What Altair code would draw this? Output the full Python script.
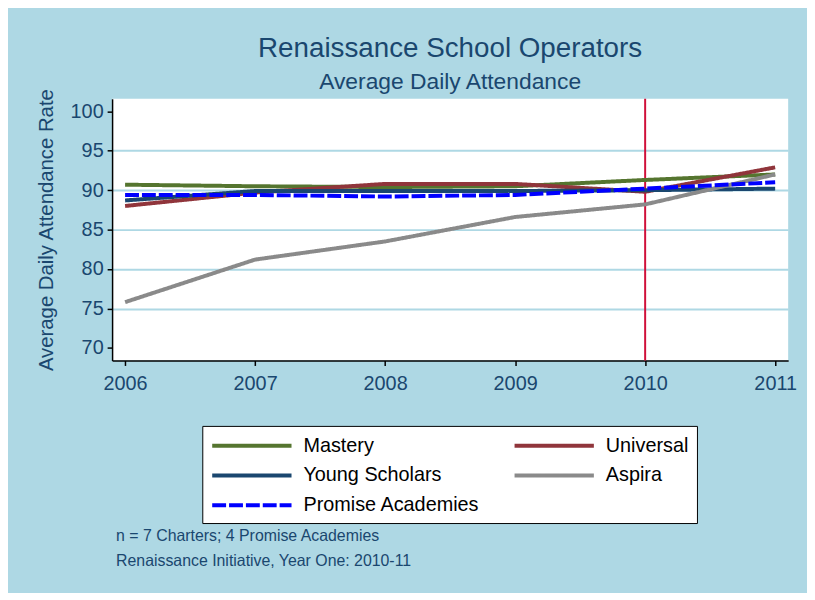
import altair as alt
import pandas as pd

# ---- data ----
years = [2006, 2007, 2008, 2009, 2010, 2011]
operators = ["Mastery", "Universal", "Young Scholars", "Aspira", "Promise Academies"]
mastery = [90.7, 90.5, 90.4, 90.5, 91.3, 92.0]
universal = [88.0, 89.7, 90.8, 90.8, 89.8, 92.9]
young_scholars = [88.7, 89.9, 89.9, 89.9, 90.0, 90.2]
aspira = [75.8, 81.2, 83.5, 86.6, 88.2, 92.0]
promise = [89.4, 89.4, 89.2, 89.4, 90.2, 91.0]
y_ticks = [70, 75, 80, 85, 90, 95, 100]
cutoff_year = [2010]
notes = ["n = 7 Charters; 4 Promise Academies",
         "Renaissance Initiative, Year One: 2010-11"]
title_text = "Renaissance School Operators"
subtitle_text = "Average Daily Attendance"
y_title = "Average Daily Attendance Rate"

series = dict(zip(operators, [mastery, universal, young_scholars, aspira, promise]))
rows = []
for op in operators:
    for yr, v in zip(years, series[op]):
        rows.append({"Year": yr, "Operator": op, "Rate": v})
df = pd.DataFrame(rows)

FONT = "Liberation Sans"
NAVY = "#1a476f"
BG = "#aed8e4"
color_range = ["#55752f", "#90353b", "#1a476f", "#8a8a8a", "#0000ff"]
dash_range = [[1, 0], [1, 0], [1, 0], [1, 0], [14, 3]]

x = alt.X("Year:Q",
          scale=alt.Scale(domain=[2005.9, 2011.1], nice=False, zero=False),
          axis=alt.Axis(values=years, format="d", title=None, grid=False,
                        labelFontSize=20, labelColor=NAVY, labelFont=FONT,
                        tickColor="black", domainColor="black", tickSize=5,
                        labelPadding=8, domainWidth=1.5, tickWidth=1.5))
y = alt.Y("Rate:Q",
          scale=alt.Scale(domain=[68.4, 101.6], nice=False, zero=False),
          axis=alt.Axis(values=y_ticks, title=y_title,
                        titleFontSize=20.5, titleFont=FONT, titleColor=NAVY,
                        titleFontWeight="normal", titlePadding=14,
                        labelFontSize=20, labelColor=NAVY, labelFont=FONT,
                        tickColor="black", domainColor="black", tickSize=5,
                        labelPadding=4, domainWidth=1.5, tickWidth=1.5,
                        grid=True, gridColor=BG, gridWidth=2,
                        gridOpacity=alt.condition("datum.value == 70 || datum.value == 100",
                                                  alt.value(0), alt.value(1))))

# long stroke symbol: custom path spans 8 symbol radii (radius = sqrt(size)/2 = 10px -> 80px)
legend = alt.Legend(title=None, orient="none", legendX=91, legendY=330, columns=2,
                    direction="horizontal",
                    symbolType="M-1,0H7", symbolSize=400, symbolStrokeWidth=4,
                    labelFontSize=20, labelFont=FONT, labelColor="black",
                    labelOffset=70, rowPadding=8, columnPadding=27, padding=8,
                    fillColor="white", strokeColor="black", labelLimit=400)

lines = alt.Chart(df).mark_line(strokeWidth=4).encode(
    x=x, y=y,
    color=alt.Color("Operator:N", scale=alt.Scale(domain=operators, range=color_range), legend=legend),
    strokeDash=alt.StrokeDash("Operator:N", scale=alt.Scale(domain=operators, range=dash_range), legend=legend),
    order=alt.Order("Year:Q"),
)

rule = alt.Chart(pd.DataFrame({"Year": cutoff_year})).mark_rule(
    color="#d0103a", strokeWidth=2).encode(x="Year:Q")

note1 = alt.Chart(pd.DataFrame({"note": [notes[0]]})).mark_text(
    align="left", baseline="middle", fontSize=16, font=FONT, color=NAVY).encode(
    x=alt.value(4), y=alt.value(441), text="note:N")
note2 = alt.Chart(pd.DataFrame({"note": [notes[1]]})).mark_text(
    align="left", baseline="middle", fontSize=16, font=FONT, color=NAVY).encode(
    x=alt.value(4), y=alt.value(466), text="note:N")

chart = alt.layer(rule, lines, note1, note2).properties(
    width=682, height=264,
    title=alt.Title(title_text, subtitle=subtitle_text, anchor="middle", frame="group",
                    fontSize=28, subtitleFontSize=23, color=NAVY, subtitleColor=NAVY,
                    font=FONT, subtitleFont=FONT, fontWeight="normal",
                    offset=-6, subtitlePadding=8),
    autosize=alt.AutoSizeParams(type="none"),
    padding={"left": 105, "top": 89, "right": 19, "bottom": 232},
    background=BG,
).configure_view(fill="white", stroke=None)

chart.save("out.html", embed_options={"renderer": "svg", "actions": False})
